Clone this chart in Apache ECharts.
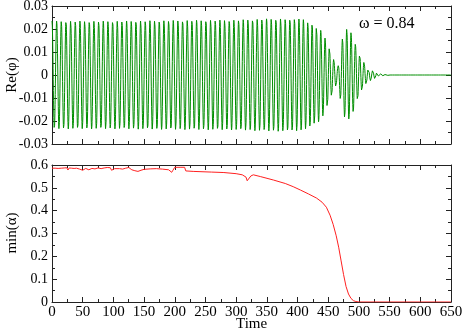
<!DOCTYPE html>
<html>
<head>
<meta charset="utf-8">
<script src="https://cdn.jsdelivr.net/npm/echarts@6/dist/echarts.min.js"></script>
<style>
  html, body { margin: 0; padding: 0; background: #fff; }
  #chart { width: 463px; height: 331px; }
</style>
</head>
<body>
<div id="chart"></div>
<script>
// 横轴刻度
const timeTicks = [0, 50, 100, 150, 200, 250, 300, 350, 400, 450, 500, 550, 600, 650]

// Re(phi) 包络
const envTime = [0, 100, 200, 300, 350, 396, 409, 416, 423, 430, 437, 444, 452, 458, 466, 472, 479, 487, 494, 502, 508, 515, 522, 530, 540, 550, 650]
const envAmp = [0.0235, 0.0235, 0.0238, 0.024, 0.0245, 0.0246, 0.0242, 0.0232, 0.0225, 0.0213, 0.0199, 0.0167, 0.0123, 0.0073, 0.0036, 0.015, 0.0203, 0.0188, 0.0138, 0.0087, 0.0058, 0.003, 0.002, 0.0012, 0.0005, 0, 0]

// 振荡周期
const periodTime = [0, 380, 420, 650]
const periodVal = [7.6, 7.6, 7.05, 7.05]

// min(alpha) 曲线
const alphaTime = [0, 5, 10, 15, 18, 20, 22, 24, 26, 28, 30, 32, 34, 36, 38, 40, 42, 45, 48, 50, 55, 60, 65, 70, 75, 80, 85, 90, 95, 97, 100, 102, 110, 115, 120, 125, 128, 130, 135, 140, 145, 150, 160, 170, 180, 190, 195, 197, 200, 210, 216, 218, 230, 260, 280, 300, 310, 316, 318, 320, 324, 328, 340, 361, 380, 393, 405, 418, 431, 440, 447, 453, 458, 463, 467, 471, 475, 479, 483, 487, 491, 495, 500, 650]
const alphaVal = [0.586, 0.586, 0.585, 0.586, 0.581, 0.587, 0.579, 0.588, 0.578, 0.587, 0.580, 0.586, 0.582, 0.585, 0.583, 0.586, 0.584, 0.582, 0.585, 0.577, 0.585, 0.579, 0.585, 0.583, 0.587, 0.584, 0.587, 0.589, 0.588, 0.577, 0.577, 0.584, 0.584, 0.582, 0.586, 0.589, 0.589, 0.579, 0.575, 0.572, 0.577, 0.581, 0.583, 0.584, 0.582, 0.579, 0.568, 0.577, 0.590, 0.590, 0.590, 0.574, 0.572, 0.569, 0.567, 0.562, 0.557, 0.547, 0.531, 0.539, 0.552, 0.557, 0.549, 0.534, 0.519, 0.505, 0.490, 0.473, 0.455, 0.437, 0.415, 0.380, 0.340, 0.290, 0.240, 0.180, 0.120, 0.068, 0.035, 0.016, 0.006, 0.002, 0.0, 0.0]

// 线性插值
const lerp = (xs, ys, x) => {
  if (x <= xs[0]) return ys[0]
  for (let i = 1; i < xs.length; i++) {
    if (x <= xs[i]) {
      const f = (x - xs[i - 1]) / (xs[i] - xs[i - 1])
      return ys[i - 1] + f * (ys[i] - ys[i - 1])
    }
  }
  return ys[ys.length - 1]
}

// 由包络和周期拼出振荡曲线
const phiData = []
let phase = 0
const dt = 0.25
for (let t = 0; t <= 650; t += dt) {
  phiData.push([t, lerp(envTime, envAmp, t) * Math.cos(phase)])
  phase += 2 * Math.PI * dt / lerp(periodTime, periodVal, t)
}
const alphaData = alphaTime.map((t, i) => [t, alphaVal[i]])

const FONT = 'Liberation Serif'
const AX = '#222'

const tickCfg = { inside: true, length: 5, lineStyle: { color: AX } }
const minorCfg = { show: true, splitNumber: 2, length: 3, lineStyle: { color: AX } }

const makeX = (grid, pos, labels) => ({
  type: 'value', gridIndex: grid, position: pos,
  min: timeTicks[0], max: timeTicks[timeTicks.length - 1], interval: 50,
  axisLine: { show: true, onZero: false, lineStyle: { color: AX, width: 1 } },
  axisTick: tickCfg, minorTick: minorCfg,
  splitLine: { show: false },
  axisLabel: { show: labels, color: '#000', fontFamily: FONT, fontSize: 15, margin: 3 }
})

const makeY = (grid, pos, labels, min, max, interval) => ({
  type: 'value', gridIndex: grid, position: pos,
  min, max, interval,
  axisLine: { show: true, onZero: false, lineStyle: { color: AX, width: 1 } },
  axisTick: tickCfg, minorTick: minorCfg,
  splitLine: { show: false },
  axisLabel: {
    show: labels, color: '#000', fontFamily: FONT, fontSize: 14, margin: 4,
    formatter: v => String(Math.round(v * 1000) / 1000)
  }
})

// 竖排轴标题
const vText = (text, y) => ({
  type: 'text', x: 12, y, rotation: Math.PI / 2,
  style: { text, font: '15px "Liberation Serif"', fill: '#000', align: 'center', verticalAlign: 'middle' }
})

const chart = echarts.init(document.getElementById('chart'), null, { renderer: 'canvas' })
chart.setOption({
  animation: false,
  backgroundColor: '#fff',
  grid: [
    { left: 52, right: 12, top: 6, height: 138, outerBoundsMode: 'none', containLabel: false },
    { left: 52, right: 12, top: 165, height: 137, outerBoundsMode: 'none', containLabel: false }
  ],
  xAxis: [
    makeX(0, 'bottom', false),
    makeX(0, 'top', false),
    makeX(1, 'bottom', true),
    makeX(1, 'top', false)
  ],
  yAxis: [
    makeY(0, 'left', true, -0.03, 0.03, 0.01),
    makeY(0, 'right', false, -0.03, 0.03, 0.01),
    makeY(1, 'left', true, 0, 0.6, 0.1),
    makeY(1, 'right', false, 0, 0.6, 0.1)
  ],
  graphic: [
    vText('Re(φ)', 75),
    vText('min(α)', 233),
    { type: 'text', left: 359, top: 16, style: { text: 'ω = 0.84', font: '16px "Liberation Serif"', fill: '#000' } },
    { type: 'text', left: 236, top: 317, style: { text: 'Time', font: '15px "Liberation Serif"', fill: '#000' } }
  ],
  series: [
    {
      type: 'line', xAxisIndex: 0, yAxisIndex: 0, data: phiData,
      showSymbol: false, sampling: null, silent: true,
      lineStyle: { color: '#008e00', width: 1 }
    },
    {
      type: 'line', xAxisIndex: 2, yAxisIndex: 2, data: alphaData,
      showSymbol: false, silent: true,
      lineStyle: { color: '#ff2020', width: 1 }
    }
  ]
})
</script>
</body>
</html>
